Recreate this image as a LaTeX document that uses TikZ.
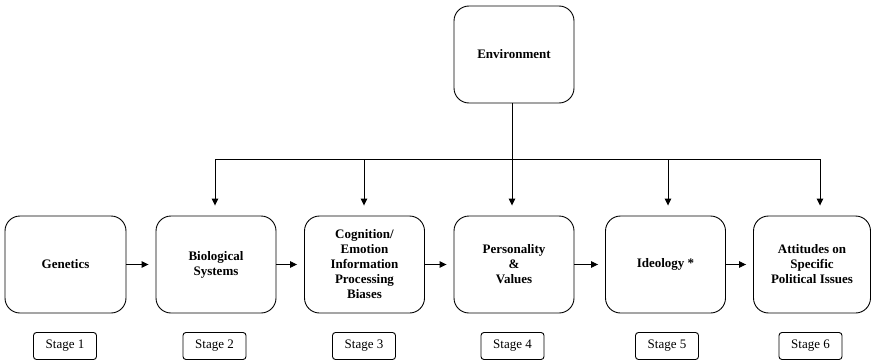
\documentclass[tikz,border=0pt]{standalone}
\usepackage{fontspec}
\setmainfont{Liberation Serif}
\usetikzlibrary{arrows.meta}
\begin{document}
\begin{tikzpicture}[x=1pt,y=-1pt,
  bigbox/.style={draw, line width=0.9pt, rounded corners=15pt, minimum width=120pt, minimum height=97pt, align=center, inner sep=2pt, font=\fontsize{13}{15}\selectfont\bfseries},
  stagebox/.style={draw, line width=0.9pt, rounded corners=3pt, minimum width=63pt, minimum height=27pt, inner sep=1pt, font=\fontsize{13}{15}\selectfont},
  conn/.style={line width=0.9pt, -{Triangle[length=7pt,width=6.5pt]}}
]
\useasboundingbox (0,0) rectangle (872,361);
\node[bigbox] (env) at (514,54.5) {Environment};
\node[bigbox, minimum width=121pt] (gen) at (65.5,264.5) {Genetics};
\node[bigbox] (bio) at (216,264.5) {Biological\\Systems};
\node[bigbox] (cog) at (364.5,264.5) {Cognition/\\Emotion\\Information\\Processing\\Biases};
\node[bigbox] (per) at (514,264.5) {Personality\\\&\\Values};
\node[bigbox] (ide) at (665.5,264.5) {Ideology *};
\node[bigbox, minimum width=117pt] (att) at (812,264.5) {Attitudes on\\Specific\\Political Issues};

\node[stagebox] (s1) at (65,346) {Stage 1};
\node[stagebox] (s2) at (214.5,346) {Stage 2};
\node[stagebox] (s3) at (364,346) {Stage 3};
\node[stagebox] (s4) at (512.5,346) {Stage 4};
\node[stagebox] (s5) at (667,346) {Stage 5};
\node[stagebox] (s6) at (810.5,346) {Stage 6};

\coordinate (h2) at (215,159);
\coordinate (h3) at (364,159);
\coordinate (h4) at (512,159);
\coordinate (h5) at (668,159);
\coordinate (h6) at (820,159);

\draw[line width=0.9pt] (env.south -| h4) -- (h4);
\draw[line width=0.9pt] (h2) -- (h6);
\draw[conn, shorten >=10pt] (h2) -- (h2 |- bio.north);
\draw[conn, shorten >=10pt] (h3) -- (h3 |- cog.north);
\draw[conn, shorten >=10pt] (h4) -- (h4 |- per.north);
\draw[conn, shorten >=10pt] (h5) -- (h5 |- ide.north);
\draw[conn, shorten >=10pt] (h6) -- (h6 |- att.north);

\draw[conn, shorten >=7pt] (gen.east) -- (bio.west);
\draw[conn, shorten >=7pt] (bio.east) -- (cog.west);
\draw[conn, shorten >=7pt] (cog.east) -- (per.west);
\draw[conn, shorten >=7pt] (per.east) -- (ide.west);
\draw[conn, shorten >=7pt] (ide.east) -- (att.west);
\end{tikzpicture}
\end{document}
